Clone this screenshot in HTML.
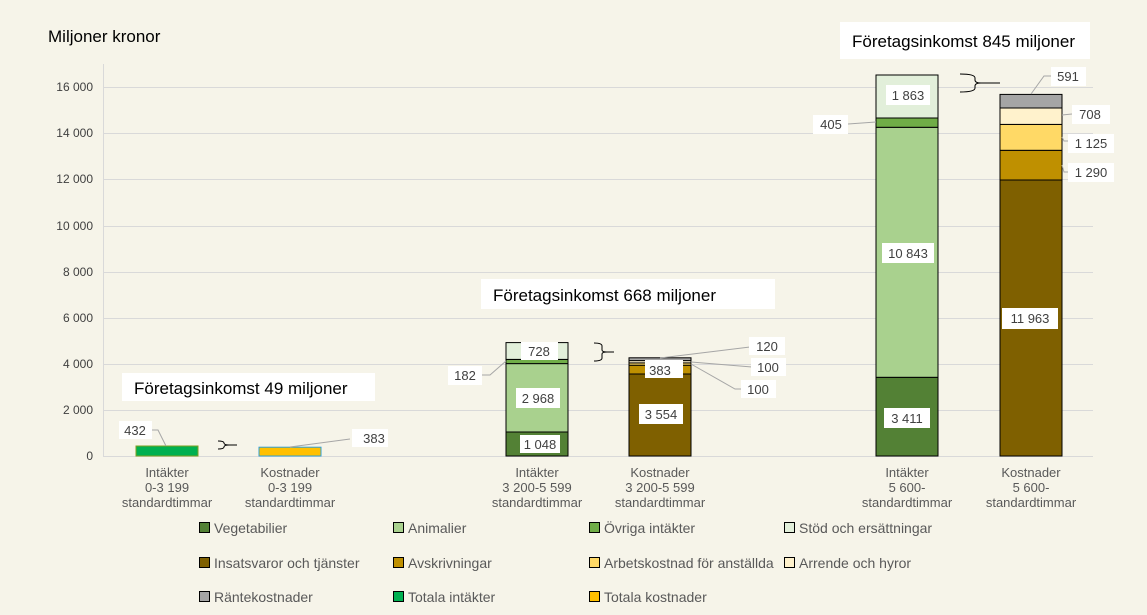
<!DOCTYPE html><html><head><meta charset="utf-8"><style>body{margin:0;background:#f6f4e9}svg{display:block;font-family:"Liberation Sans",sans-serif}</style></head><body>
<svg width="1147" height="615" viewBox="0 0 1147 615">
<rect width="1147" height="615" fill="#f6f4e9"/>
<text x="48" y="42" font-size="17" fill="#000">Miljoner kronor</text>
<g stroke="#d9d9d9" stroke-width="1">
<line x1="103" x2="1093" y1="87.5" y2="87.5"/><line x1="103" x2="1093" y1="133.5" y2="133.5"/><line x1="103" x2="1093" y1="179.5" y2="179.5"/><line x1="103" x2="1093" y1="226.5" y2="226.5"/><line x1="103" x2="1093" y1="272.5" y2="272.5"/><line x1="103" x2="1093" y1="318.5" y2="318.5"/><line x1="103" x2="1093" y1="364.5" y2="364.5"/><line x1="103" x2="1093" y1="410.5" y2="410.5"/><line x1="103" x2="1093" y1="456.5" y2="456.5"/><line x1="103.5" x2="103.5" y1="64" y2="456"/>
</g>
<g font-size="12" fill="#404040" text-anchor="end">
<text x="93" y="91">16 000</text><text x="93" y="137">14 000</text><text x="93" y="183">12 000</text><text x="93" y="230">10 000</text><text x="93" y="276">8 000</text><text x="93" y="322">6 000</text><text x="93" y="368">4 000</text><text x="93" y="414">2 000</text><text x="93" y="460">0</text>
</g>
<g stroke="#000" stroke-width="1">
<rect x="136" y="446" width="62" height="10" fill="#00b050" stroke="#7f9f20"/>
<rect x="259" y="447.2" width="62" height="8.8" fill="#ffc000" stroke="#2e9fd8"/>
<rect x="506" y="432" width="62" height="24" fill="#538135"/>
<rect x="506" y="363.6" width="62" height="68.4" fill="#a9d18e"/>
<rect x="506" y="359.4" width="62" height="4.2" fill="#70ad47"/>
<rect x="506" y="342.6" width="62" height="16.8" fill="#e2efda"/>
<rect x="629" y="374" width="62" height="82" fill="#7f6000"/>
<rect x="629" y="365.2" width="62" height="8.8" fill="#bf9000"/>
<rect x="629" y="362.9" width="62" height="2.3" fill="#ffd966"/>
<rect x="629" y="360.6" width="62" height="2.3" fill="#fff2cc"/>
<rect x="629" y="357.8" width="62" height="2.8" fill="#a5a5a5"/>
<rect x="876" y="377.3" width="62" height="78.7" fill="#538135"/>
<rect x="876" y="127.3" width="62" height="250" fill="#a9d18e"/>
<rect x="876" y="118" width="62" height="9.3" fill="#70ad47"/>
<rect x="876" y="75" width="62" height="43" fill="#e2efda"/>
<rect x="1000" y="180" width="62" height="276" fill="#7f6000"/>
<rect x="1000" y="150.3" width="62" height="29.7" fill="#bf9000"/>
<rect x="1000" y="124.4" width="62" height="25.9" fill="#ffd966"/>
<rect x="1000" y="108" width="62" height="16.4" fill="#fff2cc"/>
<rect x="1000" y="94.4" width="62" height="13.6" fill="#a5a5a5"/>
</g>
<g stroke="#a6a6a6" fill="none">
<path d="M152 430 L158 430 L166 446"/><path d="M290 447 L350 439"/>
<path d="M482 375 L490 375 L506 361"/>
<path d="M660 358 L750 347"/><path d="M691 362 L752 367"/><path d="M691 364 L735 389 L742 389"/>
<path d="M848 124 L876 122"/><path d="M1031 94 L1044 76 L1052 76"/>
<path d="M1062 115 L1072 114"/><path d="M1062 137 L1064 141 L1068 141"/><path d="M1062 165 L1064 172 L1068 172"/>
</g>
<g stroke="#000" fill="none">
<path d="M218 441 q6 0 6 2 q0 2 5 2 q-5 0 -5 2 q0 2 -6 2 M229 445 L237 445"/>
<path d="M594 343 q8 0 8 3 v4 q0 2 5 2 q-5 0 -5 2 v4 q0 3 -8 3 M607 352 L614 352"/>
<path d="M960 74 q15 0 15 4 v2 q0 3 6 3 q-6 0 -6 3 v2 q0 4 -15 4 M981 83 L1000 83"/>
</g>
<g fill="#fff">
<rect x="122" y="373" width="253" height="28"/><rect x="481" y="279" width="294" height="30"/><rect x="840" y="22" width="250" height="37"/>
<rect x="119" y="421" width="33" height="18"/><rect x="352" y="429" width="36" height="18"/>
<rect x="448" y="366" width="34" height="19"/><rect x="521" y="342" width="37" height="18"/><rect x="516" y="388" width="44" height="20"/><rect x="520" y="435" width="40" height="18"/>
<rect x="749" y="337" width="36" height="18"/><rect x="751" y="358" width="35" height="18"/><rect x="741" y="380" width="35" height="18"/>
<rect x="645" y="360" width="38" height="18"/><rect x="639" y="404" width="44" height="20"/>
<rect x="813" y="115" width="35" height="19"/><rect x="886" y="85" width="44" height="20"/><rect x="882" y="243" width="52" height="20"/><rect x="884" y="408" width="46" height="20"/>
<rect x="1051" y="67" width="35" height="19"/><rect x="1072" y="105" width="38" height="19"/><rect x="1068" y="134" width="46" height="19"/><rect x="1068" y="163" width="46" height="19"/><rect x="1002" y="308" width="56" height="21"/>
</g>
<g font-size="17" fill="#000">
<text x="134" y="394">Företagsinkomst 49 miljoner</text>
<text x="493" y="301">Företagsinkomst 668 miljoner</text>
<text x="852" y="47">Företagsinkomst 845 miljoner</text>
</g>
<g font-size="13" fill="#404040" text-anchor="middle">
<text x="135" y="435">432</text><text x="374" y="443">383</text>
<text x="465" y="380">182</text><text x="539" y="356">728</text><text x="538" y="403">2 968</text><text x="540" y="449">1 048</text>
<text x="767" y="351">120</text><text x="768" y="372">100</text><text x="758" y="394">100</text>
<text x="660" y="375">383</text><text x="661" y="419">3 554</text>
<text x="831" y="129">405</text><text x="908" y="100">1 863</text><text x="908" y="258">10 843</text><text x="907" y="423">3 411</text>
<text x="1068" y="81">591</text><text x="1090" y="119">708</text><text x="1091" y="148">1 125</text><text x="1091" y="177">1 290</text><text x="1030" y="323">11 963</text>
</g>
<g font-size="13" fill="#595959" text-anchor="middle">
<text x="167" y="477">Intäkter</text><text x="167" y="492">0-3 199</text><text x="167" y="507">standardtimmar</text>
<text x="290" y="477">Kostnader</text><text x="290" y="492">0-3 199</text><text x="290" y="507">standardtimmar</text>
<text x="537" y="477">Intäkter</text><text x="537" y="492">3 200-5 599</text><text x="537" y="507">standardtimmar</text>
<text x="660" y="477">Kostnader</text><text x="660" y="492">3 200-5 599</text><text x="660" y="507">standardtimmar</text>
<text x="907" y="477">Intäkter</text><text x="907" y="492">5 600-</text><text x="907" y="507">standardtimmar</text>
<text x="1031" y="477">Kostnader</text><text x="1031" y="492">5 600-</text><text x="1031" y="507">standardtimmar</text>
</g>
<g stroke="#000" stroke-width="1">
<rect x="199.5" y="522.5" width="10" height="10" fill="#538135"/><rect x="393.5" y="522.5" width="10" height="10" fill="#a9d18e"/><rect x="589.5" y="522.5" width="10" height="10" fill="#70ad47"/><rect x="784.5" y="522.5" width="10" height="10" fill="#e2efda"/>
<rect x="199.5" y="557.5" width="10" height="10" fill="#7f6000"/><rect x="393.5" y="557.5" width="10" height="10" fill="#bf9000"/><rect x="589.5" y="557.5" width="10" height="10" fill="#ffd966"/><rect x="784.5" y="557.5" width="10" height="10" fill="#fff2cc"/>
<rect x="199.5" y="591.5" width="10" height="10" fill="#a5a5a5"/><rect x="393.5" y="591.5" width="10" height="10" fill="#00b050"/><rect x="589.5" y="591.5" width="10" height="10" fill="#ffc000"/>
</g>
<g font-size="14" fill="#595959">
<text x="214" y="533">Vegetabilier</text><text x="408" y="533">Animalier</text><text x="604" y="533">Övriga intäkter</text><text x="799" y="533">Stöd och ersättningar</text>
<text x="214" y="568">Insatsvaror och tjänster</text><text x="408" y="568">Avskrivningar</text><text x="604" y="568">Arbetskostnad för anställda</text><text x="799" y="568">Arrende och hyror</text>
<text x="214" y="602">Räntekostnader</text><text x="408" y="602">Totala intäkter</text><text x="604" y="602">Totala kostnader</text>
</g>
</svg></body></html>
